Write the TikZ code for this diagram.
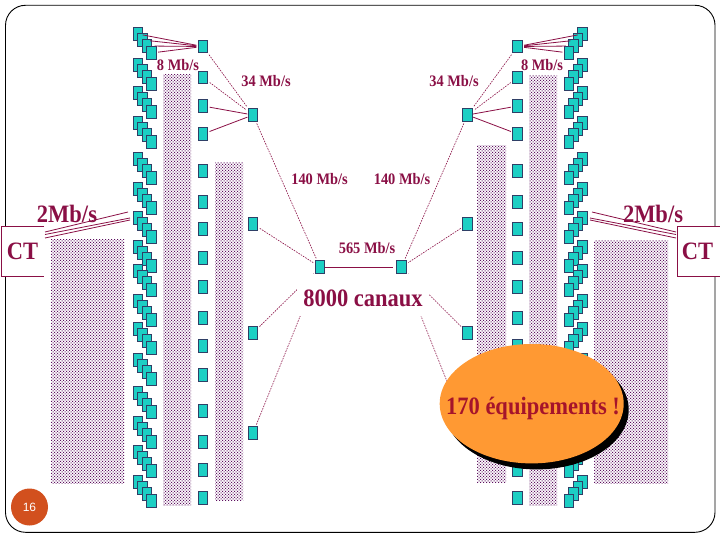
\documentclass[tikz,border=0pt]{standalone}
\usepackage{fontspec}
\setmainfont{Liberation Serif}
\setsansfont{Liberation Sans}
\usetikzlibrary{patterns,shapes.geometric}
\definecolor{wine}{HTML}{8A0F45}
\definecolor{hatch}{HTML}{5E1060}
\definecolor{teal1}{HTML}{1CCFC4}
\definecolor{edge1}{HTML}{2F3F66}
\definecolor{orange1}{HTML}{FF9933}
\definecolor{red1}{HTML}{A5142B}
\definecolor{badge}{HTML}{D2501E}
\pgfdeclarepatternformonly{ditherdots}{\pgfqpoint{-0.5pt}{-0.5pt}}{\pgfqpoint{3.5pt}{3.5pt}}{\pgfqpoint{3pt}{3pt}}{
  \pgfpathrectangle{\pgfqpoint{0pt}{0pt}}{\pgfqpoint{1.2pt}{1.2pt}}
  \pgfpathrectangle{\pgfqpoint{1.5pt}{1.5pt}}{\pgfqpoint{1.2pt}{1.2pt}}
  \pgfusepath{fill}}
\tikzset{
  sq/.style={draw=edge1,line width=0.9pt,fill=teal1,rectangle,minimum width=9.4pt,minimum height=12.4pt,inner sep=0pt,outer sep=0pt},
  hatchbar/.style={pattern=ditherdots,pattern color=hatch},
  link/.style={draw=wine,line width=0.6pt,dash pattern=on 1.6pt off 1.1pt,shorten >=2.5pt,shorten <=2.5pt},
  solidlink/.style={draw=wine,line width=0.8pt},
  squeezed/.style={xscale=0.9,transform shape},
  lab/.style={text=wine,font=\bfseries\fontsize{16}{16}\selectfont,inner sep=0pt,squeezed},
  big/.style={text=wine,font=\bfseries\fontsize{25}{25}\selectfont,inner sep=0pt,squeezed},
  ctbox/.style={draw=wine,line width=0.7pt}
}
\begin{document}
\begin{tikzpicture}[x=1pt,y=-1pt]
\useasboundingbox (0,0) rectangle (720,540);
\fill[white] (0,0) rectangle (720,540);
\draw[black,line width=0.9pt,rounded corners=20pt] (5.5,5.3) rectangle (715,532.3);
% hatched bars
\foreach \xa/\ya/\xb/\yb in {51/239/124/483,163/75/191/505,215/163/243/500,529/76/557/505,477/146/506/482,594/240/668/483}
  \fill[hatchbar] (\xa,\ya) rectangle (\xb,\yb);
% squares: both sides
\foreach \side/\sgn in {L/1,R/-1}{
  \foreach \yt [count=\i] in {28,59,87,117,153,183,212,241,265,295,323,354,387,417,446,476}{
    \pgfmathsetmacro\xa{360.25+\sgn*(138-360.25)}
    \pgfmathsetmacro\xb{360.25+\sgn*(142.5-360.25)}
    \pgfmathsetmacro\xc{360.25+\sgn*(147-360.25)}
    \pgfmathsetmacro\xd{360.25+\sgn*(151.5-360.25)}
    \node[sq] (\side c\i a) at (\xa,\yt+6) {};
    \node[sq] (\side c\i b) at (\xb,\yt+12) {};
    \node[sq] (\side c\i c) at (\xc,\yt+18) {};
    \node[sq] (\side c\i d) at (\xd,\yt+25) {};
  }
  \foreach \yc [count=\i] in {46.5,77.5,106,134,171,202,229,258,287,318,346,375,411,442,470,498}{
    \pgfmathsetmacro\xa{360.25+\sgn*(203-360.25)}
    \node[sq] (\side m\i) at (\xa,\yc) {};
  }
  \foreach \yc [count=\i] in {115,224,333,433}{
    \pgfmathsetmacro\xa{360.25+\sgn*(253-360.25)}
    \node[sq] (\side t\i) at (\xa,\yc) {};
  }
}
\node[sq] (Lhub) at (320,267) {};
\node[sq] (Rhub) at (401.5,267) {};
% connectors
\foreach \side in {L,R}{
  \draw[solidlink,shorten >=2pt] (\side c1a) -- (\side m1);
  \draw[solidlink,shorten >=2pt,shorten <=3pt] (\side c1b) -- (\side m1);
  \draw[solidlink,shorten >=2pt,shorten <=3pt] (\side c1c) -- (\side m1);
  \draw[solidlink,shorten >=2pt,shorten <=2pt] (\side c1d) -- (\side m1);
  \draw[link] (\side m1) -- (\side t1);
  \draw[link] (\side m2) -- (\side t1);
  \draw[solidlink,shorten >=1pt,shorten <=2pt] (\side m3) -- (\side t1);
  \draw[solidlink,shorten >=1pt,shorten <=2pt] (\side m4) -- (\side t1);
  \draw[link] (\side t1) -- (\side hub);
  \draw[link] (\side t2) -- (\side hub);
  \draw[link] (\side t3) -- (\side hub);
  \draw[link] (\side t4) -- (\side hub);
}
\draw[solidlink,line width=0.9pt,shorten >=4pt] (Lhub) -- (Rhub);
% 2 Mb/s bundles
\coordinate (la1) at (45,232); \coordinate (lb1) at (128,212);
\coordinate (la2) at (45,234.5); \coordinate (lb2) at (130,218);
\coordinate (la3) at (45,238); \coordinate (lb3) at (130,220);
\coordinate (ra1) at (676,232); \coordinate (rb1) at (592,212);
\coordinate (ra2) at (676,234.5); \coordinate (rb2) at (590,218);
\coordinate (ra3) at (676,238); \coordinate (rb3) at (590,220);
\foreach \s in {l,r}\foreach \n in {1,2,3}
  \draw[solidlink] (\s a\n) -- (\s b\n);
% mask under the big label
\fill[white] (297,274) rectangle (429,316);
% labels
\node[lab] (l8a) at (178,65) {8 Mb/s};
\node[lab] (l8b) at (542,65) {8 Mb/s};
\node[lab] (l34a) at (266,81.5) {34 Mb/s};
\node[lab] (l34b) at (454,81.5) {34 Mb/s};
\node[lab] (l140a) at (319.5,179) {140 Mb/s};
\node[lab] (l140b) at (402,179) {140 Mb/s};
\node[lab] (l565) at (367,248) {565 Mb/s};
\node[big] (can) at (363,298) {8000 canaux};
\node[big] (l2a) at (67,214) {2Mb/s};
\node[big] (l2b) at (653,214) {2Mb/s};
% CT boxes
\fill[white] (1,226) rectangle (44,276);
\draw[ctbox] (44,226) -- (1,226) -- (1,276) -- (44,276);
\fill[white] (677,226) rectangle (720,276);
\draw[ctbox] (720,226) -- (677,226) -- (677,276) -- (720,276);
\node[big] (ctl) at (22.5,251) {CT};
\node[big] (ctr) at (697.5,251) {CT};
% callout
\fill[black] (536.7,409.7) ellipse [x radius=92pt,y radius=59.7pt];
\node[ellipse,fill=orange1,minimum width=184pt,minimum height=119.4pt,inner sep=0pt] (callout) at (531.7,403.7) {};
\node[text=red1,font=\bfseries\fontsize{25}{25}\selectfont,inner sep=0pt,squeezed] (calltxt) at (533,408) {170 équipements !};
% page number
\node[circle,fill=badge,minimum size=37pt,inner sep=0pt,text=white,font=\sffamily\fontsize{12}{12}\selectfont] (page) at (29.5,507) {16};
\end{tikzpicture}
\end{document}
